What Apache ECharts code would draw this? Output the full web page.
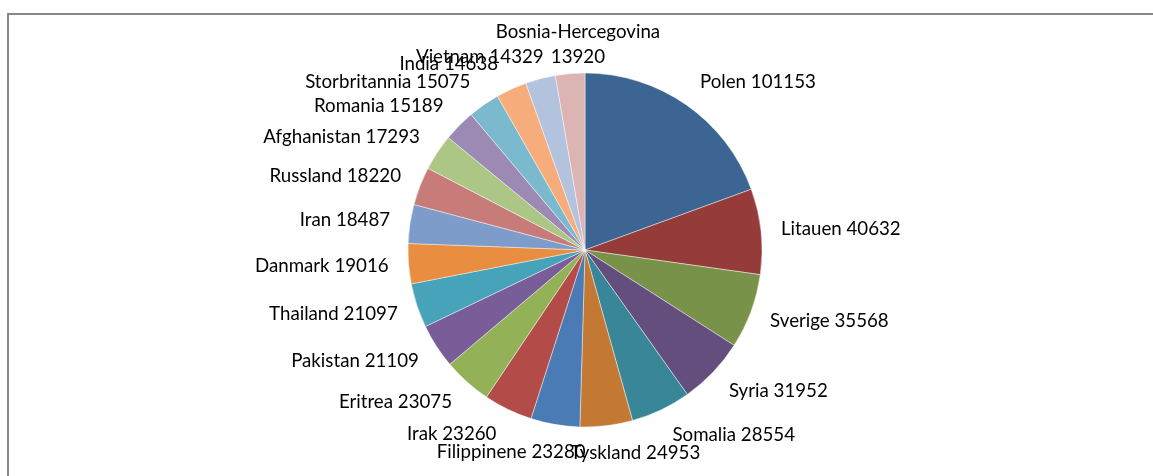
<!DOCTYPE html>
<html>
<head>
<meta charset="utf-8">
<script src="https://cdn.jsdelivr.net/npm/echarts@6/dist/echarts.min.js"></script>
<style>
html,body{margin:0;padding:0;background:#ffffff;}
#c{width:1153px;height:476px;}
</style>
</head>
<body>
<div id="c"></div>
<script>
// Data
const countries = ['Polen','Litauen','Sverige','Syria','Somalia','Tyskland','Filippinene','Irak','Eritrea','Pakistan','Thailand','Danmark','Iran','Russland','Afghanistan','Romania','Storbritannia','India','Vietnam','Bosnia-Hercegovina'];
const values = [101153,40632,35568,31952,28554,24953,23280,23260,23075,21109,21097,19016,18487,18220,17293,15189,15075,14638,14329,13920];
const sliceColors = ['#3C6594','#953B3A','#79924A','#634E7E','#388697','#C37834','#4A7BB5','#B34B48','#93B156','#785D98','#47A3BA','#E98D40','#7E9CCA','#C87C7A','#ACC685','#9C8AB5','#7BB9CF','#F7AC7B','#B4C3DD','#DDB4B4'];

// mid angle of each slice (degrees clockwise from top), derived from the values
const total = values.reduce((a, b) => a + b, 0);
const midAngles = [];
let acc = 0;
values.forEach(v => { midAngles.push((acc + v / 2) / total * 360); acc += v; });

// Excel-like label tweaks (pixel nudges)
const labelNudge = {
  'Tyskland': { dx: -43 },
  'Filippinene': { dx: 38 },
  'Vietnam': { dx: 12, dy: 5 },
  'India': { dx: -2 },
  'Bosnia-Hercegovina': { center: true, dx: 14, dy: -2 }
};

const chart = echarts.init(document.getElementById('c'), null, { renderer: 'canvas' });
chart.setOption({
  animation: false,
  backgroundColor: '#ffffff',
  graphic: [{
    type: 'rect', silent: true,
    shape: { x: 8, y: 14, width: 1300, height: 700 },
    style: { fill: 'none', stroke: '#888888', lineWidth: 2 }
  }],
  series: [{
    type: 'pie',
    center: [585, 250],
    radius: 177,
    startAngle: 90,
    clockwise: true,
    avoidLabelOverlap: false,
    silent: true,
    data: countries.map((n, i) => ({ name: n, value: values[i], itemStyle: { color: sliceColors[i] } })),
    itemStyle: { borderColor: 'rgba(255,255,255,0.55)', borderWidth: 0.8 },
    label: {
      show: true,
      position: 'outside',
      color: '#000000',
      fontFamily: 'Lato',
      fontSize: 18.7,
      lineHeight: 25,
      distanceToLabelLine: 5,
      formatter: p => p.name === 'Bosnia-Hercegovina' ? p.name + '\n' + p.value : p.name + ' ' + p.value
    },
    labelLine: { show: false, length: 15, length2: 0 },
    labelLayout: function (p) {
      const i = p.dataIndex;
      const th = midAngles[i] * Math.PI / 180;
      const res = { dy: -12.5 * Math.cos(th) };
      const n = labelNudge[countries[i]];
      if (n) {
        res.dy += n.dy || 0;
        if (n.center) {
          res.align = 'center';
          res.x = p.labelRect.x + p.labelRect.width + (n.dx || 0);
        } else {
          res.dx = n.dx || 0;
        }
      }
      return res;
    }
  }]
});
</script>
</body>
</html>
